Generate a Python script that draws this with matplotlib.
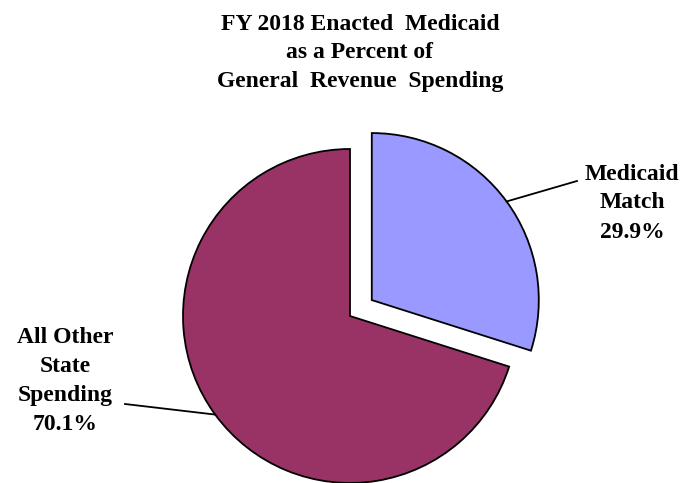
import numpy as np
import matplotlib.pyplot as plt

plt.rcParams['font.family'] = ['Liberation Serif', 'DejaVu Serif']

title = "FY 2018 Enacted  Medicaid\nas a Percent of\nGeneral  Revenue  Spending"
labels = ["Medicaid\nMatch", "All Other\nState\nSpending"]
shares = [29.9, 70.1]
colors = ['#9999FF', '#993366']

fig = plt.figure(figsize=(6.98, 4.83), dpi=100)
ax = fig.add_axes([0, 0, 1, 1])

# explode is given in data units here (radius is 167)
wedges, _ = ax.pie(shares, colors=colors, startangle=90, counterclock=False,
                   explode=[27, 0], center=(350, 167), radius=167,
                   wedgeprops=dict(edgecolor='black', linewidth=1.3))
ax.set_xlim(0, 698)
ax.set_ylim(0, 483)
ax.set_aspect('equal')
ax.axis('off')

ax.text(360, 430, title, ha='center', va='center', fontsize=17,
        fontweight='bold', linespacing=1.5)

# leader lines start at the middle of each wedge's arc
text_pos = [(632, 280), (65, 102)]
line_end = [(577, 302), (125, 79)]
for w, name, pct, tp, le in zip(wedges, labels, shares, text_pos, line_end):
    mid = np.deg2rad((w.theta1 + w.theta2) / 2)
    cx, cy = w.center
    sx, sy = cx + w.r * np.cos(mid), cy + w.r * np.sin(mid)
    ax.plot([sx, le[0]], [sy, le[1]], color='black', lw=1.3)
    ax.text(tp[0], tp[1], f"{name}\n{pct:.1f}%", ha='center', va='center',
            fontsize=17, fontweight='bold', linespacing=1.5)

plt.savefig('out.png', dpi=100)
